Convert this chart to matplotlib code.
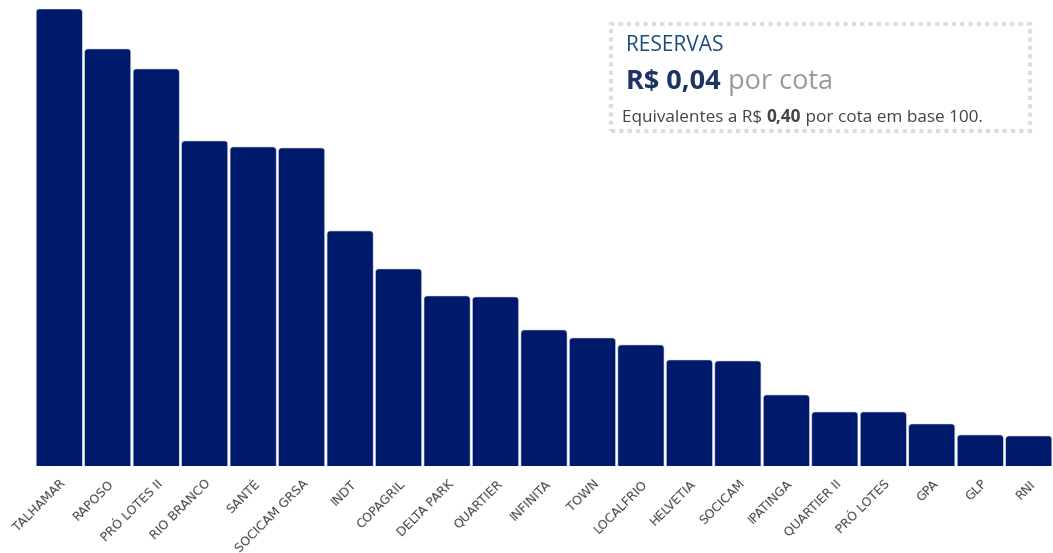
import matplotlib
matplotlib.use('Agg')
import matplotlib.pyplot as plt
from matplotlib.patches import FancyBboxPatch, Rectangle

# dados (escala relativa)
fundos = ['TALHAMAR', 'RAPOSO', 'PRÓ LOTES II', 'RIO BRANCO', 'SANTÉ', 'SOCICAM GRSA',
          'INDT', 'COPAGRIL', 'DELTA PARK', 'QUARTIER', 'INFINITA', 'TOWN', 'LOCALFRIO',
          'HELVETIA', 'SOCICAM', 'IPATINGA', 'QUARTIER II', 'PRÓ LOTES', 'GPA', 'GLP', 'RNI']
valores = [4.57, 4.17, 3.97, 3.25, 3.19, 3.18, 2.35, 1.97, 1.70, 1.69, 1.36, 1.28, 1.21,
           1.06, 1.05, 0.71, 0.54, 0.54, 0.42, 0.31, 0.30]

W, H = 1053, 553
fig = plt.figure(figsize=(W / 100, H / 100), dpi=100)
ax = fig.add_axes([35 / W, 1 - 466 / H, (1053 - 35) / W, (466 - 9) / H])

n = len(fundos)
ax.set_xlim(-0.5, n - 0.5)
ax.set_ylim(0, max(valores))

cor_barra = '#001a6b'
largura = 0.95
# aspecto px: 1 unidade x = 48.5 px, 1 unidade y = 100 px
aspecto = (max(valores) / 457) / (1 / 48.5)
r = 3 / 48.5
for i, v in enumerate(valores):
    caixa = FancyBboxPatch((i - largura / 2, -0.1), largura, v + 0.1,
                           boxstyle='round,pad=0,rounding_size=%f' % r,
                           mutation_aspect=aspecto, facecolor=cor_barra,
                           edgecolor='#c8cce0', linewidth=0.4)
    ax.add_patch(caixa)

ax.set_xticks(range(n))
ax.set_xticklabels(fundos, rotation=45, ha='right', rotation_mode='anchor',
                   family=['Liberation Sans Narrow', 'DejaVu Sans'], fontsize=9, color='#444444')
ax.tick_params(axis='x', length=0, pad=8)
ax.set_yticks([])
for s in ax.spines.values():
    s.set_visible(False)

# caixa de destaque
def fx(x):
    return x / W

def fy(y):
    return 1 - y / H

fig.patches.append(Rectangle((fx(611), fy(131)), fx(1030) - fx(611), fy(24) - fy(131),
                             transform=fig.transFigure, fill=False, edgecolor='#dcdce8',
                             linewidth=3, linestyle=(0, (1, 1))))

fonte = ['Open Sans', 'DejaVu Sans']
fig.text(fx(626), fy(51), 'RESERVAS', family=fonte, fontsize=15, color='#1f4a7c')
t1 = fig.text(fx(626), fy(89), 'R$ 0,04', family=fonte, fontsize=19.5, fontweight='bold', color='#1c3463')
fig.canvas.draw()
r_ = fig.canvas.get_renderer()
e1 = t1.get_window_extent(r_)
fig.text(e1.x1 / W + fx(7), fy(89), 'por cota', family=fonte, fontsize=19.5, color='#9a9a9a')

partes = [('Equivalentes a R$ ', 'normal'), ('0,40', 'bold'), (' por cota em base 100.', 'normal')]
x = fx(622)
for txt, peso in partes:
    t = fig.text(x, fy(122), txt, family=fonte, fontsize=12.3, fontweight=peso, color='#444444')
    fig.canvas.draw()
    x = t.get_window_extent(fig.canvas.get_renderer()).x1 / W

fig.savefig('out.png', dpi=100)
